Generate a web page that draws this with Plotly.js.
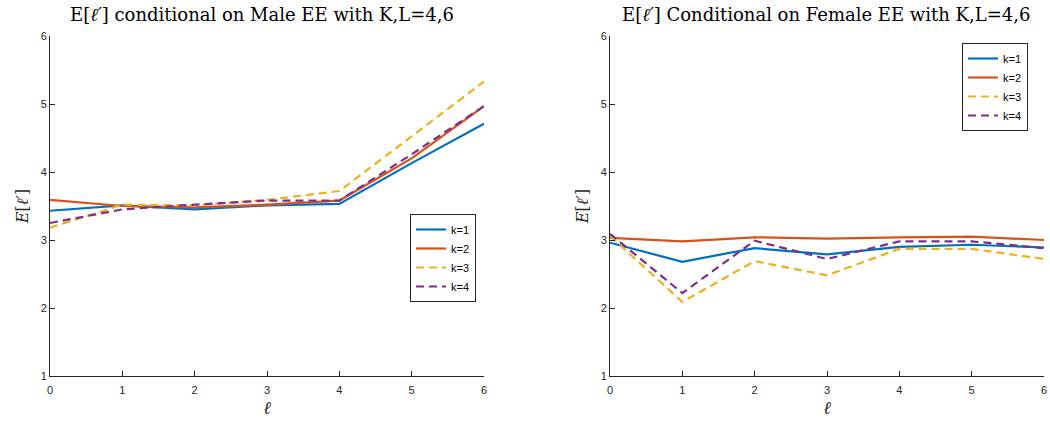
<!DOCTYPE html>
<html>
<head>
<meta charset="utf-8">
<script src="https://cdn.plot.ly/plotly-3.0.1.min.js"></script>
<style>html,body{margin:0;padding:0;background:#fff;}#chart{width:1050px;height:421px;}</style>
</head>
<body>
<div id="chart"></div>
<script>
const ell = [0, 1, 2, 3, 4, 5, 6];
const seriesNames = ['k=1', 'k=2', 'k=3', 'k=4'];

// Left panel: conditional on Male EE
const maleK1 = [3.43, 3.51, 3.45, 3.51, 3.53, 4.13, 4.71];
const maleK2 = [3.59, 3.50, 3.48, 3.52, 3.58, 4.20, 4.97];
const maleK3 = [3.18, 3.52, 3.51, 3.59, 3.72, 4.52, 5.33];
const maleK4 = [3.25, 3.45, 3.52, 3.58, 3.58, 4.26, 4.97];

// Right panel: conditional on Female EE
const femaleK1 = [2.96, 2.68, 2.88, 2.79, 2.90, 2.93, 2.89];
const femaleK2 = [3.03, 2.98, 3.04, 3.02, 3.04, 3.05, 3.00];
const femaleK3 = [3.06, 2.09, 2.69, 2.48, 2.87, 2.87, 2.72];
const femaleK4 = [3.09, 2.22, 2.99, 2.72, 2.98, 2.98, 2.88];

const xTicks = [0, 1, 2, 3, 4, 5, 6];
const yTicks = [1, 2, 3, 4, 5, 6];

const colors = ['#0072BD', '#D95319', '#EDB120', '#7E2F8E'];
const dashes = ['solid', 'solid', '8px,5px', '8px,5px'];

const male = [maleK1, maleK2, maleK3, maleK4];
const female = [femaleK1, femaleK2, femaleK3, femaleK4];

const traces = [];
male.forEach((ys, i) => traces.push({
  x: ell, y: ys, type: 'scatter', mode: 'lines', name: seriesNames[i],
  line: {color: colors[i], width: 2.2, dash: dashes[i]},
  xaxis: 'x', yaxis: 'y', legend: 'legend'
}));
female.forEach((ys, i) => traces.push({
  x: ell, y: ys, type: 'scatter', mode: 'lines', name: seriesNames[i],
  line: {color: colors[i], width: 2.2, dash: dashes[i]},
  xaxis: 'x2', yaxis: 'y2', legend: 'legend2'
}));

const axCol = '#262626';
const tickFont = {family: 'Liberation Sans, Arial, sans-serif', size: 11, color: axCol};
const serif = 'DejaVu Serif, Liberation Serif, serif';

function xax(domain, anchor) {
  return {
    domain: domain, anchor: anchor, range: [0, 6], tickvals: xTicks,
    ticks: 'inside', ticklen: 5, tickcolor: axCol, showgrid: false, zeroline: false,
    showline: true, linecolor: axCol, linewidth: 1, mirror: false,
    tickfont: tickFont, ticklabelstandoff: 4,
    title: {text: '<i>ℓ</i>', font: {family: serif, size: 18, color: axCol}, standoff: 6}
  };
}
function yax(anchor) {
  return {
    domain: [0, 1], anchor: anchor, range: [1, 6], tickvals: yTicks,
    ticks: 'inside', ticklen: 5, tickcolor: axCol, showgrid: false, zeroline: false,
    showline: true, linecolor: axCol, linewidth: 1, mirror: false,
    tickfont: tickFont,
    title: {text: '<i>E</i>[<i>ℓ′</i>]', font: {family: serif, size: 16, color: axCol}, standoff: 8}
  };
}

const legendStyle = {
  bgcolor: '#ffffff', bordercolor: axCol, borderwidth: 1,
  font: {family: 'Liberation Sans, Arial, sans-serif', size: 11, color: '#000'},
  xref: 'paper', yref: 'paper', xanchor: 'right', yanchor: 'top',
  tracegroupgap: 0, itemwidth: 30
};

const layout = {
  width: 1050, height: 421,
  margin: {l: 0, r: 0, t: 36, b: 45},
  paper_bgcolor: '#ffffff', plot_bgcolor: '#ffffff',
  showlegend: true,
  xaxis: xax([50/1050, 484/1050], 'y'),
  yaxis: yax('x'),
  xaxis2: xax([610/1050, 1044/1050], 'y2'),
  yaxis2: yax('x2'),
  legend: Object.assign({}, legendStyle, {x: 476/1050, y: (376-214)/340}),
  legend2: Object.assign({}, legendStyle, {x: 1028/1050, y: (376-43)/340}),
  annotations: [
    {text: 'E[<i>ℓ′</i>] conditional on Male EE with K,L=4,6', xref: 'paper', yref: 'paper',
     x: 262/1050, y: (376-14)/340, xanchor: 'center', yanchor: 'middle', showarrow: false,
     font: {family: serif, size: 18, color: '#000'}},
    {text: 'E[<i>ℓ′</i>] Conditional on Female EE with K,L=4,6', xref: 'paper', yref: 'paper',
     x: 826/1050, y: (376-14)/340, xanchor: 'center', yanchor: 'middle', showarrow: false,
     font: {family: serif, size: 18, color: '#000'}}
  ]
};

Plotly.newPlot('chart', traces, layout, {displayModeBar: false, staticPlot: true});
</script>
</body>
</html>
